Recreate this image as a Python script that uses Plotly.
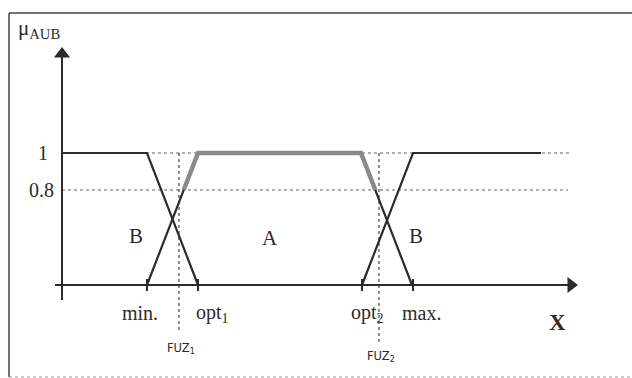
import plotly.graph_objects as go

# ---- schematic values (x in drawing units, y = membership degree) ----
x_min, x_opt1, x_opt2, x_max = 147, 198, 362, 413
x_fuz1, x_fuz2 = 179, 379
x_left, x_right_solid, x_right_dot = 62, 541, 572
level_hi = 1.0
level_lo = 0.72          # position of the "0.8" guide line in the drawing
tick_labels = ["min.", "opt<sub>1</sub>", "opt<sub>2</sub>", "max."]

B_left_x = [x_left, x_min, x_opt1]
B_left_y = [1, 1, 0]
A_x = [x_min, x_opt1, x_opt2 - 1, x_max - 1]
A_y = [0, 1, 1, 0]
B_right_x = [x_opt2, x_max, x_right_solid]
B_right_y = [0, 1, 1]

# union region above the lower guide (highlighted)
def on_rise(a, b, lv):
    return a + lv * (b - a)

U_x = [on_rise(A_x[0], A_x[1], level_lo), A_x[1], A_x[2], on_rise(A_x[3], A_x[2], level_lo)]
U_y = [level_lo, 1, 1, level_lo]

# pixel mapping helpers: plot spans whole figure
W, H = 632, 378
y0_px, y1_px = 285, 153
ppu = y0_px - y1_px
def py(p):  # pixel row -> data y
    return (y0_px - p) / ppu

ink = "#2b2b2b"
fig = go.Figure()

def line(xs, ys, color=ink, width=2.2, dash="solid"):
    fig.add_trace(go.Scatter(x=xs, y=ys, mode="lines",
                             line=dict(color=color, width=width, dash=dash),
                             hoverinfo="skip", showlegend=False))

# dotted guides
line([x_left, x_right_dot], [level_hi, level_hi], color="#666", width=1, dash="dot")
line([x_left, 568], [level_lo, level_lo], color="#666", width=1, dash="dot")
line([x_fuz1, x_fuz1], [level_hi, py(333)], color="#444", width=1.2, dash="dot")
line([x_fuz2, x_fuz2], [level_hi, py(342)], color="#444", width=1.2, dash="dot")

# membership functions
line(B_left_x, B_left_y)
line(A_x, A_y)
line(B_right_x, B_right_y)
line(U_x, U_y, color="#8a8a8a", width=4.5)

# axes
line([55, 572], [0, 0], width=2)
line([x_left, x_left], [py(300), py(54)], width=2)
fig.add_trace(go.Scatter(x=[571], y=[0], mode="markers",
                         marker=dict(symbol="triangle-right", size=14, color=ink),
                         hoverinfo="skip", showlegend=False))
fig.add_trace(go.Scatter(x=[x_left], y=[py(54)], mode="markers",
                         marker=dict(symbol="triangle-up", size=14, color=ink),
                         hoverinfo="skip", showlegend=False))
for xt in [x_min, x_opt1, x_opt2, x_max]:
    line([xt, xt], [0.045, -0.045], width=2)

# border
fig.add_shape(type="line", x0=9, x1=W + 5, y0=py(13), y1=py(13), line=dict(color="#444", width=1.5))
fig.add_shape(type="line", x0=9, x1=9, y0=py(13), y1=py(377), line=dict(color="#444", width=1.5))
fig.add_shape(type="line", x0=9, x1=W + 5, y0=py(377), y1=py(377), line=dict(color="#999", width=1, dash="dot"))

serif = "Liberation Serif"
def txt(x, y, s, size=17, xanchor="center", bold=False, family=serif):
    fig.add_annotation(x=x, y=y, text=("<b>%s</b>" % s) if bold else s, showarrow=False,
                       xanchor=xanchor, yanchor="middle",
                       font=dict(family=family, size=size, color=ink))

txt(16, py(29), "μ<sub>AUB</sub>", size=21, xanchor="left")
txt(50, level_hi, "1", size=20, xanchor="right")
txt(56, level_lo, "0.8", size=20, xanchor="right")
txt(136, py(236), "B", size=21)
txt(270, py(238), "A", size=21)
txt(416, py(236), "B", size=21)
for xc, lab in zip([140, 212, 367, 421], tick_labels):
    txt(xc, py(313), lab, size=20)
txt(557, py(322), "X", size=23, bold=True)
txt(181, py(348), "FUZ<sub>1</sub>", size=11.5, family="DejaVu Sans")
txt(381, py(356), "FUZ<sub>2</sub>", size=11.5, family="DejaVu Sans")

fig.update_layout(width=W, height=H, margin=dict(l=0, r=0, t=0, b=0),
                  plot_bgcolor="white", paper_bgcolor="white",
                  xaxis=dict(range=[0, W], visible=False, fixedrange=True),
                  yaxis=dict(range=[py(H), py(0)], visible=False, fixedrange=True))
fig.write_html("out.html", config={"displayModeBar": False},
               post_script="document.body.style.margin='0';document.body.style.overflow='hidden';")
